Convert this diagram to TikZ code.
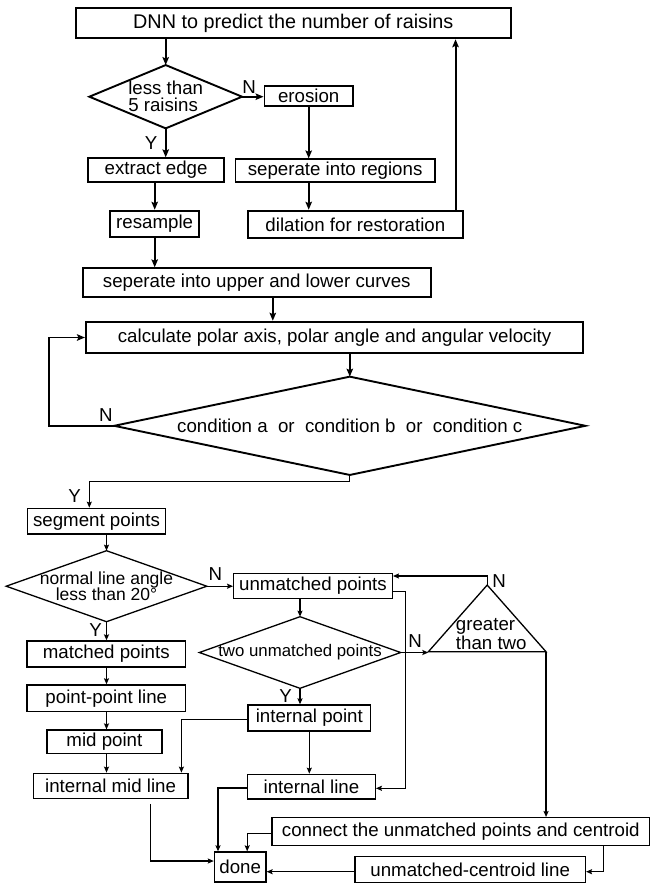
\documentclass[tikz,border=0pt]{standalone}
\usepackage{fontspec}
\setmainfont{Liberation Sans}
\usetikzlibrary{arrows.meta}

\begin{document}
\begin{tikzpicture}[x=1pt,y=1pt,yscale=-1,xscale=1,
  box/.style={draw, inner sep=1pt, font=\fontsize{18.7}{17}\selectfont},
  decision/.style={inner sep=1pt, outer sep=0pt, font=\fontsize{18.7}{17}\selectfont},
  yn/.style={inner sep=0.75pt, font=\fontsize{18.7}{17}\selectfont},
  >={Stealth[length=8pt,width=6.5pt,inset=1.5pt]}]
\useasboundingbox (0,0) rectangle (651,884);

\begin{scope}[line width=1.9pt]
%Shape: Rectangle
\node [box, minimum width=434.7, minimum height=30, font=\fontsize{19.8}{18}\selectfont] (dnn) at (293.3,23.3) {DNN to predict the number of raisins};
%Shape: Diamond
\node [decision, minimum width=152.7, minimum height=63.3, align=left] (less) at (165.7,96.7) {less than\\5 raisins};
\draw (less.west) -- (less.north) -- (less.east) -- (less.south) -- cycle;
%Shape: Rectangle
\node [box, minimum width=88.4, minimum height=20.3] (erosion) at (308.7,95.8) {erosion};
\node [box, minimum width=136.2, minimum height=23.4] (edge) at (156.1,170) {extract edge};
\node [box, minimum width=199.3, minimum height=22.3] (regions) at (335.1,170.5) {seperate into regions};
\node [box, minimum width=89.3, minimum height=26] (resample) at (154.7,223.7) {resample};
\node [box, minimum width=215, minimum height=27.6] (dilation) at (355.4,224.5) {dilation for restoration};
\node [box, minimum width=347.5, minimum height=29] (curves) at (256.8,282.8) {seperate into upper and lower curves};
\node [box, minimum width=497.4, minimum height=31.6] (polar) at (334.6,337.5) {calculate polar axis, polar angle and angular velocity};
%Shape: Diamond
\node [decision, minimum width=471.2, minimum height=98.3] (cond) at (349.8,425.8) {condition a\ \ or\ \ condition b\ \ or\ \ condition c};
\draw (cond.west) -- (cond.north) -- (cond.east) -- (cond.south) -- cycle;

% Text Node
\node [yn] (n1) at (249,87) {N};
\node [yn] (y1) at (151,143.5) {Y};
\node [yn] (n2) at (106,415.5) {N};

%Straight Lines
\draw [->] (less.north |- dnn.south) -- (less.north);
\draw [->] (less.east) -- (less.east -| erosion.west);
\draw [->] (erosion.south) -- (erosion.south |- regions.north);
\draw [->] (erosion.south |- regions.south) -- (erosion.south |- dilation.north);
\draw [->] ([xshift=-8.3pt]dilation.north east) -- ([xshift=-8.3pt]dilation.north east |- dnn.south);
\draw [->] (less.south) -- (less.south |- edge.north);
\draw [->] (resample.north |- edge.south) -- (resample.north);
\draw [->] (resample.south) -- (resample.south |- curves.north);
\draw [->] ([xshift=16pt]curves.south) -- ([xshift=16pt]curves.south |- polar.north);
\draw [->] (cond.north |- polar.south) -- (cond.north);
\draw [->] (cond.west) -- ++(-65.2,0) |- (polar.west);
\end{scope}

\begin{scope}[line width=1.3pt, >={Stealth[length=6pt,width=5pt,inset=1pt]}]
%Shape: Rectangle
\node [box, minimum width=137.4, minimum height=25.7] (segment) at (96.5,521.2) {segment points};
%Shape: Diamond
\node [decision, minimum width=200.6, minimum height=71, align=center, font=\fontsize{17.5}{16.5}\selectfont] (angle) at (106.5,586.2) {normal line angle\\less than 20°};
\draw (angle.west) -- (angle.north) -- (angle.east) -- (angle.south) -- cycle;
%Shape: Rectangle
\node [box, minimum width=158.6, minimum height=25] (unmatched) at (313,585.8) {unmatched points};
%Shape: Diamond
\node [decision, minimum width=201.3, minimum height=71.6, font=\fontsize{16.8}{16}\selectfont] (two) at (300,652.5) {two unmatched points};
\draw (two.west) -- (two.north) -- (two.east) -- (two.south) -- cycle;
%Shape: Triangle
\node [decision, minimum width=117.7, minimum height=66.7] (greater) at (487.2,618.4) {};
\draw (greater.south west) -- (greater.north) -- (greater.south east) -- cycle;
% Text Node
\node [yn, align=left] (greatertext) at (491.3,634) {greater\\than two};
%Shape: Rectangle
\node [box, minimum width=158.6, minimum height=26] (matched) at (106.3,654) {matched points};
\node [box, minimum width=158.6, minimum height=26.7] (ppline) at (106.3,698.3) {point-point line};
\node [box, minimum width=115, minimum height=23.3] (mid) at (104.4,741.7) {mid point};
\node [box, minimum width=154.9, minimum height=25] (midline) at (110.6,785.8) {internal mid line};
\node [box, minimum width=122.9, minimum height=26] (intpoint) at (309.3,718) {internal point};
\node [box, minimum width=127.5, minimum height=24.7] (intline) at (311.5,786.7) {internal line};
\node [box, minimum width=377.8, minimum height=28] (connect) at (460.8,831.7) {connect the unmatched points and centroid};
\node [box, minimum width=230.4, minimum height=25.6] (ucline) at (470.2,869.5) {unmatched-centroid line};
\node [box, minimum width=51.5, minimum height=30] (done) at (240.2,867) {done};

% Text Node
\node [yn] (y2) at (74.7,496) {Y};
\node [yn] (n3) at (215.3,574) {N};
\node [yn] (y3) at (95.5,630) {Y};
\node [yn] (n4) at (499,581) {N};
\node [yn] (n5) at (415,641) {N};
\node [yn] (y4) at (285.7,696.5) {Y};

%Straight Lines
\draw [->] (cond.south) -- ++(0,6.7) -| ([xshift=-7.2pt]segment.north);
\draw [->] (angle.north |- segment.south) -- (angle.north);
\draw [->] (angle.east) -- (angle.east -| unmatched.west);
\draw [->] (two.north |- unmatched.south) -- (two.north);
\draw [->] ([yshift=5.9pt]unmatched.east) -- ++(12.5,0) |- ([yshift=1.6pt]intline.east);
\draw [->] (two.east) -- (two.east -| greater.south west);
\draw [->] (greater.north) |- ([yshift=-9.8pt]unmatched.east);
\draw [->] (greater.south east) -- (greater.south east |- connect.north);
\draw [->] (angle.south) -- (angle.south |- matched.north);
\draw [->] (angle.south |- matched.south) -- (angle.south |- ppline.north);
\draw [->] (angle.south |- ppline.south) -- (angle.south |- mid.north);
\draw [->] (angle.south |- mid.south) -- (angle.south |- midline.north);
\draw [->] (two.south) -- (two.south |- intpoint.north);
\draw [->] ([yshift=1.3pt]intpoint.west) -| ([xshift=70.8pt]midline.north);
\draw [->] (intpoint.south) -- (intpoint.south |- intline.north);
\draw [->] ([yshift=1.3pt]intline.west) -| ([xshift=-22.2pt]done.north);
\draw [->] ([yshift=1.6pt]connect.west) -| ([xshift=7pt]done.north);
\draw [->] ([shift={(40,5)}]midline.south) |- ([yshift=-6pt]done.west);
\draw [->] ([xshift=142.4pt]connect.south) |- ([yshift=2.2pt]ucline.east);
\draw [->] ([yshift=2.2pt]ucline.west) -- ([yshift=2.2pt]ucline.west -| done.east);
\end{scope}

\end{tikzpicture}
\end{document}
